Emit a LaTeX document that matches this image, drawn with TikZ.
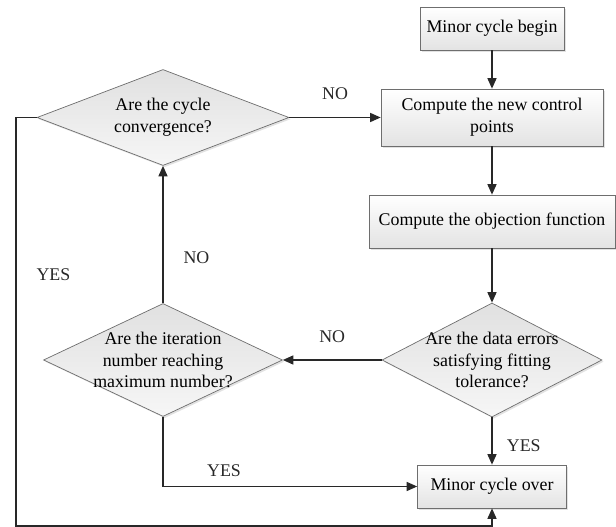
\documentclass[tikz,border=0pt]{standalone}
\usepackage{fontspec}
\setmainfont{Liberation Serif}
\usepackage{tikz}
\usetikzlibrary{positioning,arrows.meta,shapes.geometric,shadows}
\definecolor{edgegray}{RGB}{110,110,110}
\definecolor{linedark}{RGB}{40,40,40}

\begin{document}
\begin{tikzpicture}[
  box/.style={rectangle,draw=edgegray,line width=0.5pt,top color=white,bottom color=gray!22,
              drop shadow={shadow xshift=1.2pt,shadow yshift=-1.2pt,fill=gray!45},
              inner sep=0pt,align=center},
  decision/.style={diamond,draw=edgegray,line width=0.5pt,top color=gray!24,bottom color=gray!7,
              drop shadow={shadow xshift=1.2pt,shadow yshift=-1.2pt,fill=gray!45},
              inner sep=0pt,minimum width=#1},
  flow/.style={-{Triangle[length=7.5pt,width=6.5pt]},linedark,line width=0.8pt},
  lbl/.style={font=\fontsize{12.7}{15.6}\selectfont}
]
\useasboundingbox (0,0) rectangle (15.4,-13.175);
\fontsize{12.7}{15.6}\selectfont
% main column
\node[box,minimum width=3.6cm,minimum height=1.075cm] (begin) at (12.3,-0.7125) {Minor cycle begin};
\node[box,minimum width=5.55cm,minimum height=1.425cm] (ctrl) at (12.3,-2.9375) {Compute the new control\\points};
\node[box,minimum width=6.15cm,minimum height=1.325cm] (obj) at (12.3,-5.5375) {Compute the objection function};
\node[decision=5.5cm,minimum height=2.85cm,
      label={[lbl,align=center]center:Are the data errors\\satisfying fitting\\tolerance?}] (err) at (12.3,-9.0) {};
\node[box,minimum width=3.725cm,minimum height=1.075cm] (over) at (12.3,-12.1625) {Minor cycle over};
% left column
\node[decision=6.3cm,minimum height=2.4cm,
      label={[lbl,align=center]center:Are the cycle\\convergence?}] (conv) at (4.075,-2.9375) {};
\node[decision=5.975cm,minimum height=2.825cm,
      label={[lbl,align=center]center:Are the iteration\\number reaching\\maximum number?}] (iter) at (4.075,-9.0) {};
\coordinate (loop) at (0.4,-13.15);

\draw[flow] (begin) -- (ctrl);
\draw[flow] (ctrl) -- (obj);
\draw[flow] (obj) -- (err);
\draw[flow] (err) -- node[lbl,right=6pt,pos=0.6]{YES} (over);
\draw[flow] (err) -- node[lbl,above=8pt]{NO} (iter);
\draw[flow] (iter.south) |- node[lbl,above=2pt,pos=0.62]{YES} (over.west);
\draw[flow] (iter) -- node[lbl,right=10pt,pos=0.33]{NO} (conv);
\draw[flow] (conv) -- node[lbl,above=8pt]{NO} (ctrl);
\draw[flow] (conv.west) -| node[lbl,right=10pt,pos=0.693]{YES} (loop) -| (over.south);
\end{tikzpicture}
\end{document}
